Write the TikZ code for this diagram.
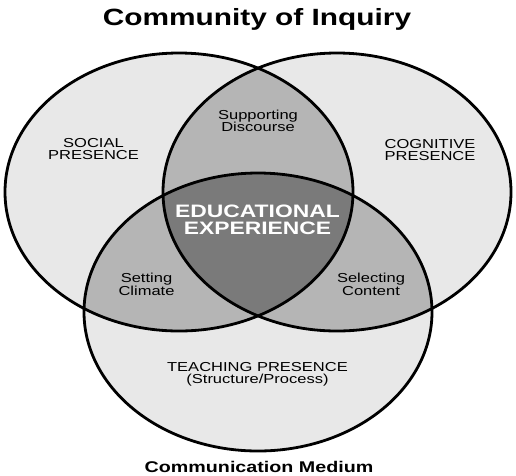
\documentclass[tikz,border=0pt]{standalone}
\usepackage{fontspec}
\setmainfont[FakeStretch=1.27]{Liberation Sans}
\definecolor{outerfill}{gray}{0.91}
\definecolor{pairfill}{gray}{0.71}
\definecolor{corefill}{gray}{0.48}
\tikzset{
  rim/.style={line width=2.8pt},
  lbl/.style={align=center,font=\fontsize{13}{12.5}\selectfont},
  head/.style={anchor=base,font=\bfseries\fontsize{23.5}{26}\selectfont},
  foot/.style={anchor=base,font=\bfseries\fontsize{15.5}{17}\selectfont},
  core/.style={align=center,text=white,font=\bfseries\fontsize{18}{17}\selectfont}
}
\begin{document}
\begin{tikzpicture}[x=1pt,y=-1pt]
\useasboundingbox (0,0) rectangle (516,475);
\coordinate (cs) at (179,192);
\coordinate (cc) at (337,192);
\coordinate (ct) at (258,312);
\fill[outerfill] (cs) ellipse (174 and 139);
\fill[outerfill] (cc) ellipse (174 and 139);
\fill[outerfill] (ct) ellipse (174 and 139);
\begin{scope}
\clip (cs) ellipse (174 and 139);
\fill[pairfill] (cc) ellipse (174 and 139);
\fill[pairfill] (ct) ellipse (174 and 139);
\end{scope}
\begin{scope}
\clip (cc) ellipse (174 and 139);
\fill[pairfill] (ct) ellipse (174 and 139);
\end{scope}
\begin{scope}
\clip (cs) ellipse (174 and 139);
\clip (cc) ellipse (174 and 139);
\fill[corefill] (ct) ellipse (174 and 139);
\end{scope}
\draw[rim] (cs) ellipse (174 and 139);
\draw[rim] (cc) ellipse (174 and 139);
\draw[rim] (ct) ellipse (174 and 139);
\node[head] (title) at (257,25) {Community of Inquiry};
\node[lbl] (social) at (93.5,149) {SOCIAL\\PRESENCE};
\node[lbl] (cognitive) at (430,150) {COGNITIVE\\PRESENCE};
\node[lbl] (discourse) at (258,121) {Supporting\\Discourse};
\node[core] (experience) at (257.5,219.5) {EDUCATIONAL\\EXPERIENCE};
\node[lbl] (climate) at (146.5,284.5) {Setting\\Climate};
\node[lbl] (content) at (371,284.5) {Selecting\\Content};
\node[lbl] (teaching) at (257.5,374.5) {TEACHING PRESENCE\\(Structure/Process)};
\node[foot] (medium) at (259,472) {Communication Medium};
\end{tikzpicture}
\end{document}
